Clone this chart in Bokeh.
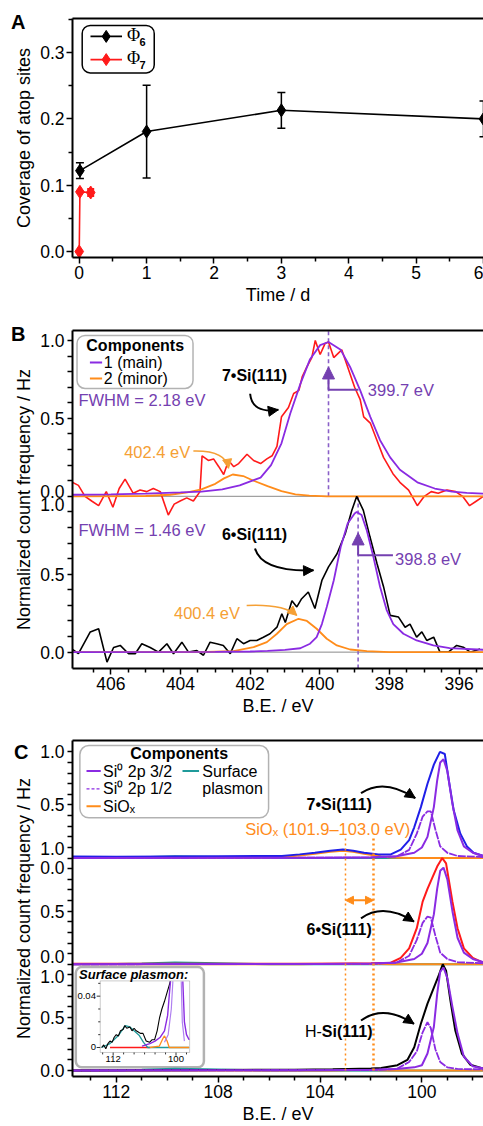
import math
from bokeh.plotting import figure
from bokeh.models import (Range1d, FixedTicker, LinearAxis, Label, Arrow, NormalHead,
                          TeeHead, Whisker, ColumnDataSource, BoxAnnotation, NumeralTickFormatter)
from bokeh.layouts import column
from bokeh.embed import file_html
from bokeh.resources import INLINE

FONT = "Liberation Sans"
SERIF = "Liberation Serif"

# ---------------- Panel A data ----------------
phi6_t = [0.01, 1, 3, 6]
phi6_y = [0.122, 0.181, 0.213, 0.200]
phi6_err = [0.012, 0.070, 0.027, 0.027]
phi7_t = [0.0, 0.01, 0.17]
phi7_y = [0.0, 0.090, 0.089]
phi7_err = [0.0, 0.0, 0.005]
time_ticks = [0, 1, 2, 3, 4, 5, 6]
cov_ticks = [0.0, 0.1, 0.2, 0.3]

# ---------------- Panel B data (N 1s) ----------------
b7_ev = [407.11, 406.93, 406.74, 406.55, 406.35, 406.13, 405.94, 405.76, 405.59, 405.36, 405.16, 404.97,
         404.78, 404.58, 404.35, 404.18, 404.01, 403.82, 403.63, 403.44, 403.38, 403.2, 403.05, 402.9,
         402.76, 402.62, 402.47, 402.33, 402.09, 401.9, 401.7, 401.52, 401.37, 401.23, 401.1, 400.9,
         400.75, 400.6, 400.5, 400.37, 400.23, 400.13, 399.99, 399.85, 399.75, 399.6, 399.37, 399.2,
         399.0, 398.84, 398.74, 398.55, 398.36, 398.17, 397.9, 397.7, 397.45, 397.2, 397.0, 396.8,
         396.6, 396.35, 396.1, 395.9, 395.7, 395.5, 395.3]
b7_int = [0.09, 0.07, 0.0, -0.03, -0.06, 0.03, -0.07, 0.05, 0.11, 0.02, 0.04, 0.03,
          0.05, 0.03, -0.12, -0.05, -0.03, -0.01, -0.03, 0.03, 0.26, 0.23, 0.24, 0.19,
          0.14, 0.23, 0.19, 0.21, 0.27, 0.23, 0.21, 0.24, 0.26, 0.32, 0.51, 0.57,
          0.66, 0.68, 0.77, 0.83, 0.89, 1.0, 0.91, 0.98, 0.99, 0.89, 0.94, 0.83,
          0.70, 0.62, 0.51, 0.47, 0.36, 0.25, 0.145, 0.09, 0.04, -0.06, 0.0, 0.03,
          0.02, 0.04, 0.03, 0.0, -0.06, -0.03, 0.0]
b7_main_ev = [407.1, 406.0, 405.0, 404.0, 403.4, 402.8, 402.3, 401.7, 401.4, 401.1, 400.85, 400.56,
              400.28, 399.99, 399.75, 399.4, 399.13, 398.84, 398.55, 398.27, 397.98, 397.7, 397.2,
              396.7, 396.2, 395.78, 395.3]
b7_main = [0.01, 0.012, 0.017, 0.025, 0.03, 0.045, 0.07, 0.12, 0.2, 0.34, 0.53, 0.72,
           0.88, 0.97, 0.99, 0.94, 0.83, 0.68, 0.51, 0.36, 0.25, 0.17, 0.09,
           0.05, 0.03, 0.022, 0.017]
b7_minor_ev = [407.1, 405.0, 404.3, 403.8, 403.4, 403.0, 402.75, 402.5, 402.2, 401.9, 401.5, 401.1,
               400.7, 400.3, 399.8, 395.3]
b7_minor = [0.0, 0.002, 0.01, 0.025, 0.045, 0.08, 0.115, 0.14, 0.13, 0.1, 0.065, 0.033,
            0.013, 0.004, 0.0, 0.0]
b6_ev = [407.11, 406.93, 406.59, 406.35, 406.11, 405.92, 405.73, 405.49, 405.3, 405.11, 404.87, 404.63,
         404.39, 404.2, 403.96, 403.77, 403.53, 403.34, 403.15, 402.96, 402.77, 402.57, 402.38, 402.19,
         402.0, 401.81, 401.62, 401.43, 401.23, 401.09, 400.99, 400.8, 400.66, 400.52, 400.33, 400.14,
         399.94, 399.75, 399.51, 399.27, 399.08, 398.94, 398.75, 398.56, 398.36, 398.17, 397.98, 397.74,
         397.55, 397.41, 397.22, 397.07, 396.93, 396.73, 396.55, 396.31, 396.07, 395.88, 395.68, 395.4]
b6_int = [0.02, -0.01, 0.13, 0.15, -0.064, 0.03, 0.043, -0.01, -0.01, 0.054, 0.03, 0.0,
          0.054, -0.01, 0.064, 0.0, 0.01, -0.02, 0.064, 0.054, 0.043, -0.01, 0.086, 0.054,
          0.075, 0.075, 0.096, 0.118, 0.16, 0.246, 0.19, 0.33, 0.29, 0.343, 0.386, 0.28,
          0.46, 0.547, 0.63, 0.76, 0.91, 1.0, 0.91, 0.74, 0.57, 0.42, 0.236, 0.225,
          0.16, 0.18, 0.096, 0.13, 0.075, 0.096, 0.0, 0.0, 0.043, 0.032, 0.0, 0.02]
b6_main_ev = [407.1, 403.0, 402.0, 401.5, 401.0, 400.56, 400.28, 400.09, 399.94, 399.8, 399.6, 399.4,
              399.2, 399.0, 398.94, 398.8, 398.65, 398.46, 398.27, 398.08, 397.89, 397.6, 397.22,
              396.74, 396.27, 395.3]
b6_main = [0.0, 0.002, 0.004, 0.008, 0.015, 0.025, 0.054, 0.096, 0.18, 0.29, 0.46, 0.675,
           0.825, 0.89, 0.9, 0.88, 0.78, 0.61, 0.42, 0.27, 0.18, 0.118, 0.075,
           0.043, 0.026, 0.015]
b6_minor_ev = [407.1, 403.5, 402.48, 401.9, 401.52, 401.23, 400.95, 400.61, 400.37, 400.09, 399.8, 399.51,
               399.13, 398.65, 398.0, 395.3]
b6_minor = [0.0, 0.0, 0.006, 0.032, 0.064, 0.118, 0.18, 0.214, 0.2, 0.15, 0.086, 0.043,
            0.017, 0.006, 0.0, 0.0]
b_peak7, b_peak6 = 399.75, 398.9

# ---------------- Panel C data (Si 2p) ----------------
c7_ev = [113.7, 112.0, 110.0, 108.0, 106.0, 105.5, 104.8, 104.2, 103.6, 103.1, 102.7, 102.27, 101.7,
         101.22, 100.83, 100.5, 100.3, 100.04, 99.78, 99.53, 99.29, 99.1, 98.94, 98.75, 98.49, 98.23,
         97.97, 97.59]
c7_int = [0.015, 0.012, 0.015, 0.018, 0.02, 0.02, 0.035, 0.05, 0.07, 0.08, 0.07, 0.05, 0.035,
          0.035, 0.08, 0.17, 0.29, 0.48, 0.70, 0.88, 1.0, 0.98, 0.73, 0.45, 0.23, 0.11,
          0.05, 0.02]
c6_ev = [113.7, 105.0, 103.0, 102.0, 101.22, 100.83, 100.5, 100.2, 99.97, 99.78, 99.58, 99.4, 99.2,
         99.05, 98.8, 98.6, 98.35, 98.0, 97.59]
c6_int = [0.005, 0.005, 0.008, 0.01, 0.015, 0.06, 0.15, 0.34, 0.59, 0.71, 0.82, 0.92, 1.0,
          0.95, 0.59, 0.34, 0.15, 0.06, 0.015]
cH_ev = [113.7, 108.0, 105.0, 103.5, 102.9, 102.0, 101.6, 100.96, 100.57, 100.3, 100.04, 99.78, 99.53,
         99.33, 99.18, 99.05, 98.88, 98.69, 98.43, 98.1, 97.6]
cH_int = [0.0, 0.005, 0.008, 0.012, 0.015, 0.02, 0.025, 0.05, 0.1, 0.22, 0.44, 0.63, 0.78,
          0.9, 1.0, 0.94, 0.66, 0.38, 0.16, 0.055, 0.018]
c_p32_ev = [113.7, 104.0, 102.0, 101.0, 100.3, 100.0, 99.78, 99.53, 99.4, 99.28, 99.15, 99.0, 98.8,
            98.6, 98.35, 98.0, 97.59]
c7_p32 = [0.0, 0.003, 0.008, 0.018, 0.05, 0.1, 0.2, 0.48, 0.73, 0.90, 0.93, 0.82, 0.51,
          0.26, 0.11, 0.05, 0.02]
c6_p32 = [0.0, 0.003, 0.008, 0.018, 0.05, 0.1, 0.2, 0.47, 0.71, 0.88, 0.91, 0.80, 0.50,
          0.25, 0.11, 0.05, 0.02]
cH_p32 = [0.0, 0.003, 0.008, 0.015, 0.03, 0.05, 0.16, 0.41, 0.72, 0.93, 0.97, 0.87, 0.6,
          0.35, 0.13, 0.04, 0.02]
c_p12_ev = [113.7, 102.0, 101.0, 100.5, 100.2, 99.97, 99.78, 99.65, 99.47, 99.28, 99.0, 98.6, 97.59]
c7_p12 = [0.0, 0.004, 0.015, 0.077, 0.23, 0.39, 0.44, 0.44, 0.27, 0.11, 0.05, 0.02, 0.01]
c6_p12 = [0.0, 0.004, 0.015, 0.08, 0.23, 0.39, 0.45, 0.44, 0.27, 0.11, 0.05, 0.02, 0.01]
cH_p12 = [0.0, 0.004, 0.015, 0.08, 0.18, 0.36, 0.456, 0.40, 0.2, 0.08, 0.03, 0.015, 0.01]
c_siox_ev = [113.7, 106.5, 105.5, 104.8, 104.2, 103.6, 103.1, 102.7, 102.27, 101.6, 101.2, 100.5, 97.59]
c7_siox = [0.0, 0.003, 0.01, 0.025, 0.04, 0.06, 0.07, 0.06, 0.04, 0.015, 0.005, 0.0, 0.0]
c6_siox = [0.0, 0.0, 0.0, 0.001, 0.002, 0.003, 0.004, 0.005, 0.004, 0.002, 0.001, 0.0, 0.0]
cH_siox = [0.0, 0.0, 0.0, 0.0, 0.0, 0.001, 0.002, 0.005, 0.008, 0.004, 0.001, 0.0, 0.0]
c_sp_ev = [113.7, 112.0, 111.0, 109.7, 108.5, 107.0, 106.0, 97.59]
c_sp = [0.0, 0.003, 0.008, 0.017, 0.012, 0.005, 0.0, 0.0]
siox_lo, siox_hi = 101.9, 103.0

# inset (surface plasmon region of H-Si(111))
ins_data_ev = [114.2, 113.8, 113.4, 113.0, 112.6, 112.2, 111.8, 111.4, 111.0, 110.6, 110.1, 109.8, 109.4,
               108.8, 108.4, 108.0, 107.6, 107.2, 106.8, 106.3, 105.7, 105.05, 104.6, 104.1, 103.6,
               103.15, 102.7, 102.2, 101.7, 101.26, 101.1]
ins_data = [0.0, 0.002, -0.001, 0.003, 0.005, 0.004, 0.008, 0.01, 0.009, 0.013, 0.014, 0.017, 0.015,
            0.016, 0.013, 0.015, 0.013, 0.012, 0.011, 0.011, 0.005, 0.004, 0.006, 0.006, 0.013,
            0.023, 0.03, 0.036, 0.043, 0.049, 0.0515]
ins_sp_ev = [114.2, 112.6, 111.0, 109.7, 108.8, 108.0, 107.0, 106.2, 105.4, 97.5]
ins_sp = [0.0, 0.003, 0.0093, 0.017, 0.016, 0.013, 0.0093, 0.004, 0.0, 0.0]
ins_red_ev = [112.6, 105.0]
ins_red = [0.0, 0.0]
ins_siox_ev = [105.0, 103.2, 102.5, 102.2, 101.7, 101.3, 97.5]
ins_siox = [0.0, 0.001, 0.007, 0.009, 0.005, 0.0, 0.0]
ins_p32_ev = [106.5, 105.0, 104.0, 103.0, 102.2, 101.6, 101.2, 101.05, float("nan"), 98.7, 98.4, 98.0, 97.5]
ins_p32 = [0.001, 0.003, 0.005, 0.008, 0.013, 0.025, 0.045, 0.0515, float("nan"), 0.0515, 0.02, 0.01, 0.006]
ins_p12_ev = [102.2, 101.5, 100.9, 100.6, float("nan"), 99.0, 98.8, 98.4]
ins_p12 = [0.004, 0.01, 0.03, 0.0515, float("nan"), 0.0515, 0.02, 0.005]

# ---------------- colours ----------------
RED = "#ff1a1a"
BLUE = "#1f1fe8"
PURPLE = "#8a2be2"
PURPLE_TXT = "#7440b0"
PURPLE_DASH = "#8a60c8"
ORANGE = "#ff8c1a"
ORANGE_TXT = "#f5a035"
TEAL = "#1f9a9a"
GRAY = "#8a8a8a"


def style_axis(ax):
    ax.axis_line_width = 2
    ax.axis_line_color = "black"
    ax.major_tick_line_width = 1.5
    ax.minor_tick_line_width = 1.5
    ax.major_tick_out = 6
    ax.major_tick_in = 0
    ax.minor_tick_out = 4
    ax.minor_tick_in = 0
    ax.major_label_text_font = FONT
    ax.major_label_text_font_size = "17.5px"
    ax.major_label_text_color = "black"
    ax.axis_label_text_font = FONT
    ax.axis_label_text_font_size = "18px"
    ax.axis_label_text_font_style = "normal"
    ax.axis_label_text_color = "black"
    ax.major_label_standoff = 2
    ax.axis_label_standoff = 3


def make_fig(height, xr, yr, top, bottom, left):
    p = figure(width=483, height=height, x_range=xr, y_range=yr, output_backend="svg",
               toolbar_location=None, min_border_left=left, min_border_right=0,
               min_border_top=top, min_border_bottom=bottom)
    p.outline_line_color = None
    p.grid.visible = False
    style_axis(p.below[0])
    style_axis(p.left[0])
    top_ax = LinearAxis(ticker=FixedTicker(ticks=[]), axis_line_width=2, axis_line_color="black",
                        major_tick_line_color=None, minor_tick_line_color=None,
                        major_label_text_font_size="0px")
    p.add_layout(top_ax, "above")
    return p


def panel_letter(p, y, letter, shift):
    # outer left axis that only carries the panel letter as its single tick label
    ax = LinearAxis(ticker=FixedTicker(ticks=[y]), major_label_overrides={y: letter},
                    axis_line_color=None, major_tick_line_color=None, minor_tick_line_color=None,
                    major_tick_out=0, minor_tick_out=0, major_tick_in=0, minor_tick_in=0,
                    major_label_standoff=-shift, major_label_text_font=FONT,
                    major_label_text_font_size="20px", major_label_text_font_style="bold",
                    major_label_text_color="black")
    p.add_layout(ax, "left")


def lbl(p, x, y, text, size="16px", color="black", style="normal", align="left",
        baseline="middle", font=FONT):
    p.add_layout(Label(x=x, y=y, text=text, text_font=font, text_font_size=size, text_color=color,
                       text_font_style=style, text_align=align, text_baseline=baseline))


def curved_arrow(p, x0, y0, cx, cy, x1, y1, color, width=2, head=10):
    p.quadratic(x0=[x0], y0=[y0], cx=[cx], cy=[cy], x1=[x1], y1=[y1],
                line_color=color, line_width=width)
    xs = x1 - 0.12 * (x1 - cx)
    ys = y1 - 0.12 * (y1 - cy)
    p.add_layout(Arrow(end=NormalHead(size=head, fill_color=color, line_color=color, line_width=1),
                       x_start=xs, y_start=ys, x_end=x1, y_end=y1,
                       line_color=color, line_width=width))


def split_y_axis(ax, majors, labels, minors):
    # all tick marks drawn as uniform marks, labels placed where the original puts them
    ax.ticker = FixedTicker(ticks=majors, minor_ticks=minors)
    ax.major_label_overrides = dict(zip(majors, labels))
    ax.major_tick_line_color = None
    ax.minor_tick_out = 5


# =============== Panel A ===============
pA = make_fig(307, Range1d(-0.1, 6.0), Range1d(-0.009, 0.3515), top=18, bottom=40, left=72)
xa = pA.below[0]
xa.ticker = FixedTicker(ticks=time_ticks, minor_ticks=[t + 0.5 for t in time_ticks[:-1]])
xa.axis_label = "Time / d"
ya = pA.left[0]
ya.ticker = FixedTicker(ticks=cov_ticks, minor_ticks=[0.05, 0.15, 0.25, 0.35])
ya.formatter = NumeralTickFormatter(format="0.0")
ya.axis_label = "Coverage of atop sites"
panel_letter(pA, 0.346, "A", 14)

src6 = ColumnDataSource(dict(t=phi6_t, y=phi6_y,
                             up=[a + b for a, b in zip(phi6_y, phi6_err)],
                             lo=[a - b for a, b in zip(phi6_y, phi6_err)]))
src7 = ColumnDataSource(dict(t=phi7_t, y=phi7_y,
                             up=[a + b for a, b in zip(phi7_y, phi7_err)],
                             lo=[a - b for a, b in zip(phi7_y, phi7_err)]))
pA.add_layout(Whisker(source=src6, base="t", upper="up", lower="lo", line_color="black", line_width=1.5,
                      upper_head=TeeHead(size=8, line_color="black", line_width=1.5),
                      lower_head=TeeHead(size=8, line_color="black", line_width=1.5)))
pA.line("t", "y", source=src6, line_color="black", line_width=1.6)
pA.scatter("t", "y", source=src6, marker="diamond", size=13, fill_color="black", line_color="black")
pA.line("t", "y", source=src7, line_color=RED, line_width=1.6)
pA.add_layout(Whisker(source=ColumnDataSource(dict(t=phi7_t[2:], up=[phi7_y[2] + phi7_err[2]],
                                                   lo=[phi7_y[2] - phi7_err[2]])),
                      base="t", upper="up", lower="lo", line_color=RED, line_width=2,
                      upper_head=TeeHead(size=7, line_color=RED, line_width=2.5),
                      lower_head=TeeHead(size=7, line_color=RED, line_width=2.5)))
pA.scatter("t", "y", source=src7, marker="diamond", size=13, fill_color=RED, line_color=RED)

# legend A
pA.add_layout(BoxAnnotation(left=0.044, right=1.113, top=0.341, bottom=0.2694, border_radius=8,
                            fill_alpha=0, line_color="black", line_width=1.5, line_alpha=1))
for yy, col, sub in [(0.3245, "black", "6"), (0.2895, RED, "7")]:
    pA.line([0.167, 0.635], [yy, yy], line_color=col, line_width=1.6)
    pA.scatter([0.40], [yy], marker="diamond", size=12, fill_color=col, line_color=col)
    lbl(pA, 0.71, yy + 0.002, "\u03a6", size="18px", font=SERIF)
    lbl(pA, 0.895, yy - 0.008, sub, size="11px", style="bold")

# =============== Panel B ===============
OB = 1.0
pB = make_fig(411, Range1d(407.1, 395.3), Range1d(-0.105, 2.064), top=23, bottom=46, left=72)
xb = pB.below[0]
xb.ticker = FixedTicker(ticks=[406, 404, 402, 400, 398, 396],
                        minor_ticks=[406.5, 405.5, 405.0, 404.5, 403.5, 403.0, 402.5, 401.5, 401.0, 400.5,
                                     399.5, 399.0, 398.5, 397.5, 397.0, 396.5, 395.5])
xb.axis_label = "B.E. / eV"
yb = pB.left[0]
split_y_axis(yb, [0.0, 0.5, 0.945, 1.03, 1.5, 2.0], ["0.0", "0.5", "1.0", "0.0", "0.5", "1.0"],
             [v / 10 for v in range(0, 21)])
yb.axis_label = "Normalized count frequency / Hz"
panel_letter(pB, 2.042, "B", 14)

for base in (0.0, OB):
    pB.line([407.1, 395.3], [base, base], line_color=GRAY, line_width=1)
pB.segment(x0=[b_peak7], y0=[OB], x1=[b_peak7], y1=[2.064], line_color=PURPLE_DASH,
           line_width=1.6, line_dash="4 3")
pB.segment(x0=[b_peak6], y0=[-0.105], x1=[b_peak6], y1=[OB], line_color=PURPLE_DASH,
           line_width=1.6, line_dash="4 3")

pB.line(b7_ev, [v + OB for v in b7_int], line_color=RED, line_width=1.6)
pB.line(b7_minor_ev, [v + OB for v in b7_minor], line_color=ORANGE, line_width=1.8)
pB.line(b7_main_ev, [v + OB for v in b7_main], line_color=PURPLE, line_width=1.8)
pB.line(b6_ev, b6_int, line_color="black", line_width=1.6)
pB.line(b6_minor_ev, b6_minor, line_color=ORANGE, line_width=1.8)
pB.line(b6_main_ev, b6_main, line_color=PURPLE, line_width=1.8)

# peak markers
for xp, yb0, yb1, xe, tx, ty, txt in [(b_peak7, 1.684, 1.83, 398.89, 398.62, 1.684, "399.7 eV"),
                                      (b_peak6, 0.622, 0.765, 397.9, 397.84, 0.60, "398.8 eV")]:
    pB.add_layout(Arrow(end=NormalHead(size=12, fill_color=PURPLE_TXT, line_color=PURPLE_TXT),
                        x_start=xp, y_start=yb0, x_end=xp, y_end=yb1,
                        line_color=PURPLE_TXT, line_width=2))
    pB.segment(x0=[xp], y0=[yb0], x1=[xe], y1=[yb0], line_color=PURPLE_TXT, line_width=2)
    lbl(pB, tx, ty, txt, size="16.5px", color=PURPLE_TXT)

lbl(pB, 406.93, 1.615, "FWHM = 2.18 eV", size="16.5px", color=PURPLE_TXT)
lbl(pB, 406.93, 0.783, "FWHM = 1.46 eV", size="16.5px", color=PURPLE_TXT)
lbl(pB, 402.81, 1.776, "7\u2022Si(111)", style="bold")
lbl(pB, 402.81, 0.757, "6\u2022Si(111)", style="bold")
curved_arrow(pB, 402.0, 1.658, 401.95, 1.53, 401.19, 1.555, "black")
curved_arrow(pB, 401.86, 0.665, 401.66, 0.514, 400.18, 0.525, "black")
lbl(pB, 403.72, 1.284, "402.4 eV", size="16.5px", color=ORANGE_TXT, align="right")
curved_arrow(pB, 403.63, 1.29, 402.7, 1.295, 402.62, 1.18, ORANGE_TXT, width=1.5, head=9)
lbl(pB, 402.29, 0.251, "400.4 eV", size="16.5px", color=ORANGE_TXT, align="right")
curved_arrow(pB, 402.1, 0.30, 401.04, 0.311, 400.66, 0.236, ORANGE_TXT, width=1.5, head=9)

# legend B
pB.add_layout(BoxAnnotation(left=406.97, right=403.64, top=2.032, bottom=1.692, border_radius=8,
                            fill_alpha=0, line_color="black", line_width=1.5))
lbl(pB, 405.3, 1.968, "Components", style="bold", align="center")
pB.line([406.6, 406.25], [1.859, 1.859], line_color=PURPLE, line_width=2)
lbl(pB, 406.2, 1.859, "1 (main)")
pB.line([406.6, 406.25], [1.756, 1.756], line_color=ORANGE, line_width=2)
lbl(pB, 406.2, 1.756, "2 (minor)")

# =============== Panel C ===============
pC = make_fig(408, Range1d(113.72, 97.58), Range1d(-0.056, 3.107), top=22, bottom=44, left=69)
xc = pC.below[0]
xc.ticker = FixedTicker(ticks=[112, 108, 104, 100],
                        minor_ticks=[113, 111, 110, 109, 107, 106, 105, 103, 102, 101, 99, 98])
xc.axis_label = "B.E. / eV"
yc = pC.left[0]
split_y_axis(yc, [0.0, 0.5, 0.89, 1.076, 1.5, 1.916, 2.093, 2.5, 3.0],
             ["0.0", "0.5", "1.0", "0.0", "0.5", "0.0", "1.0", "0.5", "1.0"],
             [v / 10 for v in range(0, 31)])
yc.axis_label = "Normalized count frequency / Hz"
panel_letter(pC, 2.995, "C", 17)

traces = [(2.0, c7_ev, c7_int, BLUE, c7_p32, c7_p12, c7_siox),
          (1.0, c6_ev, c6_int, RED, c6_p32, c6_p12, c6_siox),
          (0.0, cH_ev, cH_int, "black", cH_p32, cH_p12, cH_siox)]
for off, ev, it, col, p32, p12, sx in traces:
    pC.line([113.72, 97.58], [off, off], line_color="#506868", line_width=1.2)
    pC.line(c_sp_ev, [v + off for v in c_sp], line_color=TEAL, line_width=2)
    pC.line(c_siox_ev, [v + off for v in sx], line_color=ORANGE, line_width=2)
    pC.line(ev, [v + off for v in it], line_color=col, line_width=2)
    pC.line(c_p12_ev, [v + off for v in p12], line_color=PURPLE, line_width=1.8, line_dash="8 1")
    pC.line(c_p32_ev, [v + off for v in p32], line_color=PURPLE, line_width=2)

# SiOx region markers
pC.segment(x0=[siox_hi, siox_lo], y0=[0, 0], x1=[siox_hi, siox_lo], y1=[2.195, 2.195],
           line_color=ORANGE, line_width=[1.5, 2.5], line_dash="2 3")
pC.add_layout(Arrow(start=NormalHead(size=8, fill_color=ORANGE, line_color=ORANGE),
                    end=NormalHead(size=8, fill_color=ORANGE, line_color=ORANGE),
                    x_start=siox_hi, y_start=1.603, x_end=siox_lo, y_end=1.603,
                    line_color=ORANGE, line_width=2))
lbl(pC, 106.94, 2.27, "SiO\u2093 (101.9\u2013103.0 eV)", size="16.5px", color=ORANGE)

lbl(pC, 104.53, 2.502, "7\u2022Si(111)", style="bold")
lbl(pC, 104.53, 1.324, "6\u2022Si(111)", style="bold")
lbl(pC, 103.93, 0.363, "H-", align="right")
lbl(pC, 103.93, 0.363, "Si(111)", style="bold")
curved_arrow(pC, 102.39, 2.611, 101.5, 2.758, 100.26, 2.565, "black")
curved_arrow(pC, 102.39, 1.433, 101.5, 1.583, 100.31, 1.402, "black")
curved_arrow(pC, 102.39, 0.471, 101.5, 0.625, 100.31, 0.44, "black")

# legend C
pC.add_layout(BoxAnnotation(left=113.43, right=106.02, top=3.06, bottom=2.379, border_radius=9,
                            fill_alpha=0, line_color="black", line_width=1.5))
lbl(pC, 109.53, 2.986, "Components", style="bold", align="center")
pC.line([113.17, 112.61], [2.819, 2.819], line_color=PURPLE, line_width=2)
lbl(pC, 112.52, 2.819, "Si\u2070 2p 3/2")
pC.line([113.17, 112.61], [2.651, 2.651], line_color=PURPLE, line_width=1.2, line_dash="3 2")
lbl(pC, 112.52, 2.651, "Si\u2070 2p 1/2")
pC.line([113.17, 112.61], [2.487, 2.487], line_color=ORANGE, line_width=2)
lbl(pC, 112.52, 2.487, "SiO\u2093")
pC.line([109.4, 108.75], [2.819, 2.819], line_color=TEAL, line_width=2)
lbl(pC, 108.62, 2.819, "Surface")
lbl(pC, 108.62, 2.651, "plasmon")

# inset (drawn into panel C's own coordinates)
INS_E0, INS_E1 = 114.46, 97.4
INS_V0, INS_V1 = -0.0039, 0.0519
INS_X0, INS_X1 = 112.63, 109.12
INS_Y0, INS_Y1 = 0.170, 0.844


def ix(e):
    return INS_X0 + (e - INS_E0) * (INS_X1 - INS_X0) / (INS_E1 - INS_E0)


def iy(v):
    return INS_Y0 + (v - INS_V0) * (INS_Y1 - INS_Y0) / (INS_V1 - INS_V0)


pC.add_layout(BoxAnnotation(left=113.59, right=108.56, top=0.974, bottom=0.0307, border_radius=6,
                            fill_color="white", fill_alpha=1, line_color="black", line_width=2.5,
                            level="underlay"))
pC.add_layout(BoxAnnotation(left=INS_X0, right=INS_X1, top=INS_Y1, bottom=INS_Y0,
                            fill_alpha=0, line_color="#555555", line_width=1))
lbl(pC, 113.46, 0.905, "Surface plasmon:", size="13px", style="bold italic")
for v in [0.0, 0.01, 0.02, 0.03, 0.04, 0.05]:
    ln = 0.14 if v in (0.0, 0.04) else 0.08
    pC.segment(x0=[INS_X0], y0=[iy(v)], x1=[INS_X0 + ln], y1=[iy(v)], line_color="#333333", line_width=1)
for e in [114, 112, 110, 108, 106, 104, 102, 100, 98]:
    ln = 0.03 if e in (112, 100) else 0.018
    pC.segment(x0=[ix(e)], y0=[INS_Y0], x1=[ix(e)], y1=[INS_Y0 - ln], line_color="#333333", line_width=1)
lbl(pC, INS_X0 + 0.17, iy(0.04), "0.04", size="9.5px", align="right")
lbl(pC, INS_X0 + 0.17, iy(0.0), "0", size="9.5px", align="right")
lbl(pC, ix(112), 0.1116, "112", size="9.5px", align="center")
lbl(pC, ix(100), 0.1116, "100", size="9.5px", align="center")
pC.line([ix(e) for e in ins_red_ev], [iy(v) for v in ins_red], line_color=RED, line_width=1.3)
pC.line([ix(e) for e in ins_sp_ev], [iy(v) for v in ins_sp], line_color=TEAL, line_width=1.3)
pC.line([ix(e) for e in ins_siox_ev], [iy(v) for v in ins_siox], line_color=ORANGE, line_width=1.3)
pC.line([ix(e) for e in ins_data_ev], [iy(v) for v in ins_data], line_color="black", line_width=1.1)
pC.line([ix(e) for e in ins_p12_ev], [iy(v) for v in ins_p12], line_color="#b080f0", line_width=1.2)
pC.line([ix(e) for e in ins_p32_ev], [iy(v) for v in ins_p32], line_color=PURPLE, line_width=1.4)

layout = column(pA, pB, pC, spacing=0)
open("out.html", "w").write(file_html(layout, INLINE))
